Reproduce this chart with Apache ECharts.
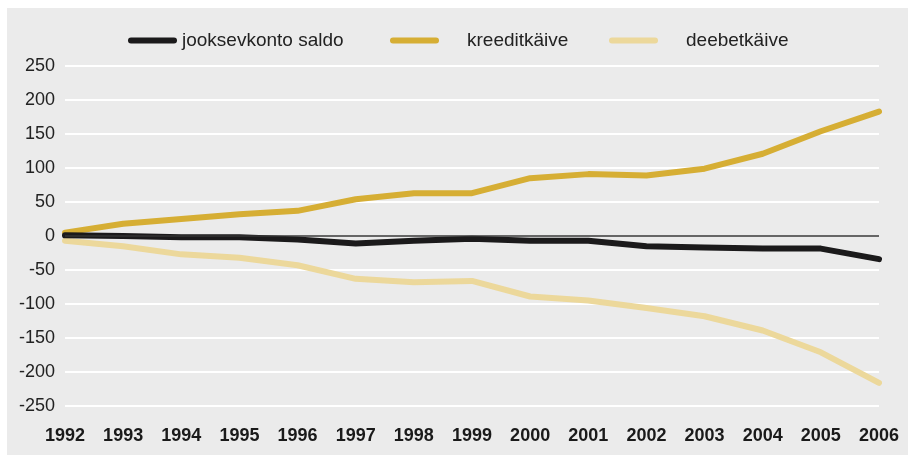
<!DOCTYPE html>
<html>
<head>
<meta charset="utf-8">
<script src="https://cdn.jsdelivr.net/npm/echarts@6/dist/echarts.min.js"></script>
<style>
html,body{margin:0;padding:0;background:#fff;}
#bg{position:absolute;left:7px;top:8px;width:901px;height:447px;background:#ebebeb;}
#chart{position:absolute;left:0;top:0;width:908px;height:455px;}
</style>
</head>
<body>
<div id="bg"></div>
<div id="chart"></div>
<script>
const years = ['1992','1993','1994','1995','1996','1997','1998','1999','2000','2001','2002','2003','2004','2005','2006'];
const saldo = [1, 0, -2, -2, -5, -11, -7, -4, -7, -7, -15, -17, -18.5, -18.5, -34];
const kreedit = [5, 18, 25, 32, 37, 54, 63, 63, 85, 91, 89, 99, 121, 154, 183];
const deebet = [-7, -15, -27, -32, -43, -63, -68, -66, -89, -95, -106, -118, -139, -171, -216];
const names = ['jooksevkonto saldo', 'kreeditkäive', 'deebetkäive'];

const font = '"Liberation Sans", Arial, sans-serif';
const cBlack = '#1b1a1b', cGold = '#d6ae34', cLight = '#ecd89b';

const chart = echarts.init(document.getElementById('chart'));
function leg(name, left, pad) {
  return {
    data: [name], left: left, top: 31, padding: 0, itemWidth: 49, itemHeight: 6,
    icon: 'path://M3,0 H46 A3,3 0 0 1 46,6 H3 A3,3 0 0 1 3,0 Z',
    selectedMode: false,
    textStyle: {fontFamily: font, fontSize: 19, color: '#222', padding: [0, 0, 0, pad]}
  };
}
chart.setOption({
  animation: false,
  backgroundColor: 'transparent',
  legend: [leg(names[0], 128, 0), leg(names[1], 390, 23), leg(names[2], 609, 23)],
  grid: {left: 65, right: 29, top: 66, bottom: 49},
  xAxis: {
    type: 'category', data: years, boundaryGap: false,
    axisLine: {show: false, onZero: false}, axisTick: {show: false},
    axisLabel: {fontFamily: font, fontSize: 18, fontWeight: 'bold', color: '#1a1a1a', margin: 21},
    splitLine: {show: false}
  },
  yAxis: {
    type: 'value', min: -250, max: 250, interval: 50,
    axisLine: {show: false}, axisTick: {show: false},
    axisLabel: {fontFamily: font, fontSize: 18, color: '#222', margin: 10},
    splitLine: {lineStyle: {color: '#ffffff', width: 2}}
  },
  series: [
    {name: names[1], type: 'line', data: kreedit, symbol: 'none', lineStyle: {color: cGold, width: 6, cap: 'round', join: 'round'}, itemStyle: {color: cGold}, z: 3},
    {name: names[2], type: 'line', data: deebet, symbol: 'none', lineStyle: {color: cLight, width: 6, cap: 'round', join: 'round'}, itemStyle: {color: cLight}, z: 3},
    {name: names[0], type: 'line', data: saldo, symbol: 'none', lineStyle: {color: cBlack, width: 6, cap: 'round', join: 'round'}, itemStyle: {color: cBlack}, z: 4,
     markLine: {silent: true, symbol: 'none', label: {show: false}, lineStyle: {color: '#333', width: 1.5, type: 'solid'}, data: [{yAxis: 0}]}}
  ]
});
</script>
</body>
</html>
